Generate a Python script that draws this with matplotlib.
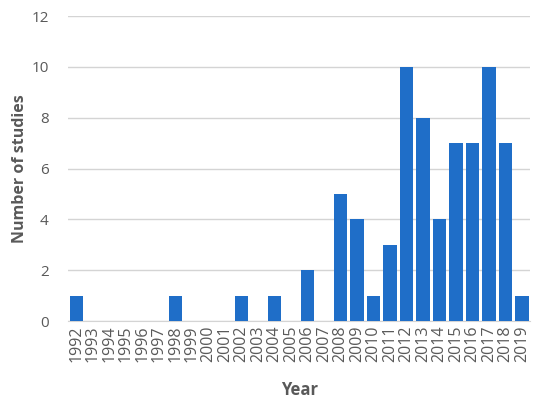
import matplotlib
matplotlib.use("Agg")
import matplotlib.pyplot as plt

years = [str(y) for y in range(1992, 2020)]
studies = [1, 0, 0, 0, 0, 0, 1, 0, 0, 0, 1, 0, 1, 0, 2, 0, 5, 4, 1, 3, 10, 8, 4, 7, 7, 10, 7, 1]
yticks = [0, 2, 4, 6, 8, 10, 12]

plt.rcParams['font.family'] = ['Open Sans', 'DejaVu Sans']
fig = plt.figure(figsize=(5.5, 4.05), dpi=100)
ax = fig.add_axes([0.124, 0.2074, 0.84, 0.753])

x = list(range(len(years)))
ax.bar(x, studies, width=0.8, color='#1f6ec8', zorder=3)
ax.set_xlim(-0.5, len(years) - 0.5)
ax.set_ylim(0, 12)
ax.set_yticks(yticks)
ax.set_xticks(x)
ax.set_xticklabels(years, rotation=90, fontsize=11.5)
ax.grid(axis='y', color='#d4d4d4', linewidth=1, zorder=0)
for s in ['top', 'right', 'left']:
    ax.spines[s].set_visible(False)
ax.spines['bottom'].set_color('#d4d4d4')
ax.tick_params(axis='both', length=0, colors='#595959')
ax.tick_params(axis='y', pad=14, labelsize=11)
ax.tick_params(axis='x', pad=3)
ax.set_ylabel('Number of studies', fontsize=11.5, fontweight='bold', color='#595959', labelpad=2)
ax.set_xlabel('Year', fontsize=12, fontweight='bold', color='#595959', labelpad=14)

fig.savefig('out.png', dpi=100)
